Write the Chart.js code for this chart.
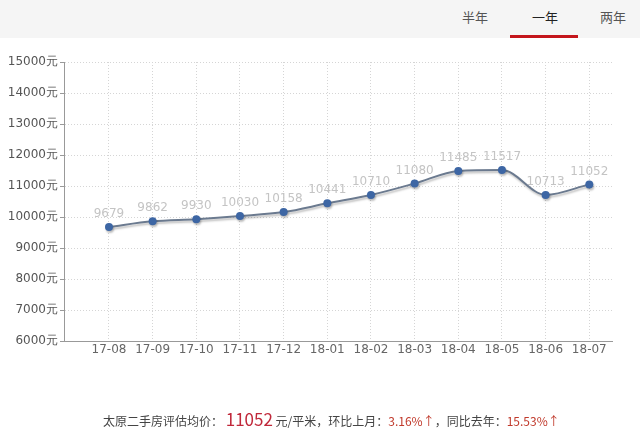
<!DOCTYPE html>
<html><head><meta charset="utf-8">
<script src="https://cdn.jsdelivr.net/npm/chart.js@4/dist/chart.umd.min.js"></script>
<style>
html,body{margin:0;padding:0;background:#fff;font-family:"Microsoft YaHei","Noto Sans CJK SC",sans-serif;}
#wrap{position:relative;width:640px;height:442px;overflow:hidden;}
#c{position:absolute;left:0;top:0;}
#top{position:absolute;left:0;top:0;width:640px;height:38px;background:#f5f5f5;}
.tab{position:absolute;top:7px;font-size:13px;color:#555;transform:translateX(-50%);}
#ul{position:absolute;left:510px;top:35px;width:68px;height:3px;background:#c4161c;}
#info{position:absolute;left:103px;top:406px;font-size:12px;color:#444;white-space:nowrap;}
#info .big{font-size:17px;color:#c0283a;}
#info .red{color:#c0392b;}
</style></head>
<body><div id="wrap">
<canvas id="c" width="640" height="442"></canvas>
<div id="top">
<span class="tab" style="left:475px">半年</span>
<span class="tab" style="left:545px;color:#222">一年</span>
<span class="tab" style="left:613px">两年</span>
<div id="ul"></div>
</div>
<div id="info">太原二手房评估均价： <span class="big">11052</span> 元/平米，环比上月：<span class="red">3.16%↑</span>，同比去年：<span class="red">15.53%↑</span></div>
</div>
<script>
const categories = ["17-08","17-09","17-10","17-11","17-12","18-01","18-02","18-03","18-04","18-05","18-06","18-07"];
const prices = [9679,9862,9930,10030,10158,10441,10710,11080,11485,11517,10713,11052];
const yTicks = [6000,7000,8000,9000,10000,11000,12000,13000,14000,15000];

const labelPlugin = {
  id:'vals',
  afterDatasetsDraw(chart){
    const ctx = chart.ctx;
    const meta = chart.getDatasetMeta(0);
    ctx.save();
    ctx.font = '12px "DejaVu Sans", sans-serif';
    ctx.fillStyle = '#c4c4c4';
    ctx.textAlign = 'center';
    ctx.textBaseline = 'bottom';
    meta.data.forEach((pt,i)=>{
      ctx.fillText(String(prices[i]), pt.x, pt.y - 7);
    });
    ctx.restore();
  }
};
const shadowPlugin = {
  id:'shadow',
  beforeDatasetDraw(chart){
    const ctx=chart.ctx; ctx.save();
    ctx.shadowColor='rgba(0,0,0,0.25)'; ctx.shadowOffsetX=1; ctx.shadowOffsetY=2; ctx.shadowBlur=2;
  },
  afterDatasetDraw(chart){ chart.ctx.restore(); }
};

new Chart(document.getElementById('c'), {
  type:'line',
  data:{datasets:[{
    data: prices.map((v,i)=>({x:i,y:v})),
    borderColor:'#6b7a8f',
    borderWidth:2,
    cubicInterpolationMode:'monotone',
    pointRadius:4,
    pointBackgroundColor:'#3d66a4',
    pointBorderColor:'#3d66a4',
    pointBorderWidth:0,
    fill:false
  }]},
  options:{
    responsive:false,
    animation:false,
    layout:{padding:{top:62,right:28,left:0,bottom:0}},
    plugins:{legend:{display:false},tooltip:{enabled:false}},
    scales:{
      x:{
        type:'linear', min:-1.03, max:11.52,
        afterBuildTicks(s){ s.ticks = categories.map((c,i)=>({value:i})); },
        afterFit(s){ s.height = 101; },
        ticks:{autoSkip:false, maxRotation:0, padding:2, color:'#666', font:{family:'"DejaVu Sans", sans-serif', size:12},
          callback:(v)=>categories[v] ?? ''},
        grid:{color:'#d5d5d5', lineWidth:1, drawTicks:false, tickLength:0},
        border:{color:'#999', width:1, dash:[1,2]}
      },
      y:{
        min:6000, max:15000,
        afterBuildTicks(s){ s.ticks = yTicks.map(v=>({value:v})); },
        afterFit(s){ s.width = 64; },
        ticks:{padding:2, color:'#555', font:{family:'"DejaVu Sans", sans-serif', size:12}, callback:(v)=>v+'元'},
        grid:{color:'#d5d5d5', lineWidth:1, tickLength:4, tickColor:'#999'},
        border:{color:'#999', width:1, dash:[1,2]}
      }
    }
  },
  plugins:[shadowPlugin,labelPlugin]
});
</script>
</body></html>
